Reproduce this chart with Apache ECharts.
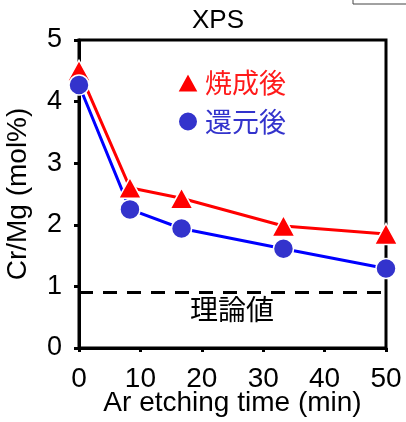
<!DOCTYPE html>
<html lang="ja">
<head>
    <meta charset="UTF-8">
    <title>XPS Cr/Mg</title>
    <script src="https://cdn.jsdelivr.net/npm/echarts@6/dist/echarts.min.js"></script>
    <style>
        body { margin: 0; background: #fff; }
        #main { width: 406px; height: 422px; }
    </style>
</head>
<body>
    <div id="main"></div>
    <script>
        // 値は図から読み取り
        var times = [0, 8.3, 16.7, 33.3, 50];
        var sintered = [4.5, 2.6, 2.43, 1.98, 1.85];   // 焼成後
        var reduced = [4.27, 2.25, 1.94, 1.61, 1.29];  // 還元後
        var theory = 0.9;                              // 理論値
        var xTicks = [0, 10, 20, 30, 40, 50];
        var yTicks = [0, 1, 2, 3, 4, 5];

        var font = "'Liberation Sans', Arial, sans-serif";
        var cjk = "'Noto Sans CJK JP', sans-serif";

        function pairs(xs, ys) {
            var out = [];
            for (var i = 0; i < xs.length; i++) out.push([xs[i], ys[i]]);
            return out;
        }

        var myChart = echarts.init(document.getElementById('main'));

        var option = {
            animation: false,
            grid: {
                left: 79, right: 20, top: 40, bottom: 74,
                outerBoundsMode: 'none',
                show: true, borderColor: '#000', borderWidth: 3
            },
            legend: {
                orient: 'vertical',
                left: 171, top: 64,
                itemWidth: 22, itemHeight: 20, itemGap: 12,
                data: [
                    { name: '焼成後', icon: 'triangle', itemStyle: { color: '#ff0000' },
                      textStyle: { color: '#ff1a1a' } },
                    { name: '還元後', icon: 'circle', itemStyle: { color: '#3333cc' },
                      textStyle: { color: '#3333cc' } }
                ],
                textStyle: { fontFamily: cjk, fontSize: 27, padding: [0, 0, 0, 1] }
            },
            xAxis: {
                type: 'value',
                min: xTicks[0], max: xTicks[xTicks.length - 1], interval: 10,
                name: 'Ar etching time (min)',
                nameLocation: 'middle', nameGap: 41,
                nameMoveOverlap: false,
                nameTextStyle: { fontFamily: font, fontSize: 28, color: '#000' },
                axisLine: { lineStyle: { color: '#000', width: 3 } },
                axisTick: { length: 4, lineStyle: { color: '#000', width: 3 } },
                axisLabel: { margin: 17, fontFamily: font, fontSize: 28, color: '#000' },
                splitLine: { show: false }
            },
            yAxis: {
                type: 'value',
                min: yTicks[0], max: yTicks[yTicks.length - 1], interval: 1,
                name: 'Cr/Mg (mol%)',
                nameLocation: 'middle', nameGap: 47,
                nameMoveOverlap: false,
                nameTextStyle: { fontFamily: font, fontSize: 28, color: '#000' },
                axisLine: { lineStyle: { color: '#000', width: 3 } },
                axisTick: { length: 5, lineStyle: { color: '#000', width: 3 } },
                axisLabel: { margin: 17, fontFamily: font, fontSize: 27, color: '#000' },
                splitLine: { show: false }
            },
            series: [
                {
                    name: '理論値線',
                    type: 'line',
                    data: [[xTicks[0], theory], [xTicks[xTicks.length - 1], theory]],
                    symbol: 'none',
                    lineStyle: { color: '#000', width: 3, type: [14, 10] },
                    silent: true
                },
                {
                    name: '焼成後',
                    type: 'line',
                    data: pairs(times, sintered),
                    symbol: 'triangle',
                    symbolSize: [23, 21],
                    lineStyle: { color: '#ff0000', width: 3 },
                    itemStyle: { color: '#ff0000', borderColor: '#fff', borderWidth: 1.5 }
                },
                {
                    name: '還元後',
                    type: 'line',
                    data: pairs(times, reduced),
                    symbol: 'circle',
                    symbolSize: 20,
                    lineStyle: { color: '#0000ff', width: 3 },
                    itemStyle: { color: '#3333cc', borderColor: '#fff', borderWidth: 1.5 }
                }
            ],
            graphic: [
                {
                    type: 'text', left: 192, top: 8,
                    style: { text: 'XPS', fontFamily: font, fontSize: 26, fill: '#000' }
                },
                {
                    type: 'text', left: 190, top: 295,
                    style: { text: '理論値', fontFamily: cjk, fontSize: 28, fill: '#000' }
                },
                {
                    type: 'rect', shape: { x: 353, y: -20, width: 80, height: 24 },
                    style: { fill: 'none', stroke: '#444', lineWidth: 1 }
                }
            ]
        };

        myChart.setOption(option);
    </script>
</body>
</html>
